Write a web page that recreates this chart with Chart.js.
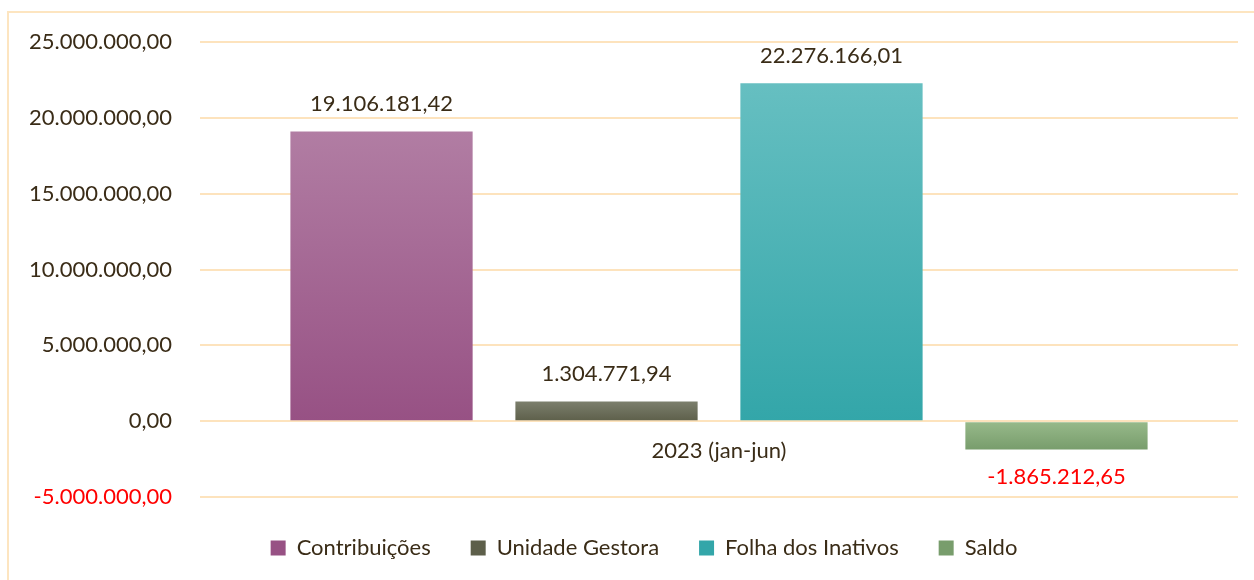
<!DOCTYPE html>
<html>
<head>
<meta charset="utf-8">
<script src="https://cdn.jsdelivr.net/npm/chart.js@4.4.1/dist/chart.umd.min.js"></script>
<style>
  html, body { margin: 0; padding: 0; background: #fff; overflow: hidden; }
  #wrap { position: relative; width: 1254px; height: 580px; overflow: hidden; }
  #frame {
    position: absolute; left: 7px; top: 11px; width: 1300px; height: 700px;
    border: 2px solid #fde5c0; pointer-events: none;
  }
  canvas { position: absolute; left: 0; top: 0; }
</style>
</head>
<body>
<div id="wrap">
  <canvas id="chart" width="1254" height="600"></canvas>
  <div id="frame"></div>
</div>
<script>
'use strict';

// ── Data ──
const periodLabels = ['2023 (jan-jun)'];
const seriesNames  = ['Contribuições', 'Unidade Gestora', 'Folha dos Inativos', 'Saldo'];
const contribuicoes  = [19106181.42];
const unidadeGestora = [1304771.94];
const folhaInativos  = [22276166.01];
const saldo          = [-1865212.65];
const yTicks = [-5000000, 0, 5000000, 10000000, 15000000, 20000000, 25000000];

const TEXT_COLOR = '#3a2c17';
const GRID_COLOR = '#fde3bd';
const FONT = 'Lato, "Open Sans", sans-serif';
const FONT_SIZE = 22;

// gradient pairs (top, bottom) per series
const FILLS = [
  ['#b17da3', '#975184'],
  ['#7c7f6d', '#5d5f4a'],
  ['#66bfc1', '#33a6a9'],
  ['#98ba8b', '#789d6c'],
];

function fmtBR(v) {
  const neg = v < 0;
  const [int, dec] = Math.abs(v).toFixed(2).split('.');
  const withDots = int.replace(/\B(?=(\d{3})+(?!\d))/g, '.');
  return (neg ? '-' : '') + withDots + ',' + dec;
}

function barGradient(top, bottom) {
  return ctx => {
    const chart = ctx.chart;
    const ys = chart.scales && chart.scales.y;
    const v = ctx.dataset.data[ctx.dataIndex || 0];
    if (!ys || !chart.chartArea) return bottom;
    const y1 = ys.getPixelForValue(Math.max(v, 0));
    const y2 = ys.getPixelForValue(Math.min(v, 0));
    if (!isFinite(y1) || !isFinite(y2) || y1 === y2) return bottom;
    const g = chart.ctx.createLinearGradient(0, y1, 0, y2);
    g.addColorStop(0, top);
    g.addColorStop(1, bottom);
    return g;
  };
}

// value labels above / below bars
const valueLabels = {
  id: 'valueLabels',
  afterDatasetsDraw(chart) {
    const c = chart.ctx;
    c.save();
    c.font = FONT_SIZE + 'px ' + FONT;
    c.textAlign = 'center';
    c.textBaseline = 'middle';
    chart.data.datasets.forEach((ds, i) => {
      const meta = chart.getDatasetMeta(i);
      meta.data.forEach((bar, j) => {
        const v = ds.data[j];
        c.fillStyle = v < 0 ? '#ff0000' : TEXT_COLOR;
        const y = v < 0 ? bar.y + 27 : bar.y - 27;
        c.fillText(fmtBR(v), bar.x, y);
      });
    });
    c.restore();
  },
};

// nudge the legend to the right, as in the original
const legendShift = {
  id: 'legendShift',
  afterLayout(chart) {
    if (chart.legend) chart.legend.left += 50;
  },
};

const seriesData = [contribuicoes, unidadeGestora, folhaInativos, saldo];

new Chart(document.getElementById('chart'), {
  type: 'bar',
  data: {
    labels: periodLabels,
    datasets: seriesNames.map((name, i) => ({
      label: name,
      data: seriesData[i],
      backgroundColor: barGradient(FILLS[i][0], FILLS[i][1]),
      borderWidth: 0,
      barPercentage: 0.81,
      categoryPercentage: 0.867,
    })),
  },
  options: {
    responsive: false,
    animation: false,
    devicePixelRatio: 1,
    layout: { padding: { left: 0, right: 16, top: 42, bottom: 31 } },
    plugins: {
      legend: {
        position: 'bottom',
        labels: {
          color: TEXT_COLOR,
          font: { family: FONT, size: FONT_SIZE },
          boxWidth: 15,
          boxHeight: 15,
          padding: 40,
        },
      },
      tooltip: { enabled: false },
    },
    scales: {
      x: {
        type: 'category',
        position: { y: 0 },
        grid: { display: false, drawTicks: false },
        border: { display: false },
        ticks: { color: TEXT_COLOR, font: { family: FONT, size: FONT_SIZE }, padding: 17 },
      },
      y: {
        min: -5000000,
        max: 25000000,
        afterBuildTicks: scale => { scale.ticks = yTicks.map(v => ({ value: v })); },
        afterFit: scale => { scale.width = 200; },
        grid: { color: GRID_COLOR, lineWidth: 2, drawTicks: false },
        border: { display: false },
        ticks: {
          padding: 28,
          font: { family: FONT, size: FONT_SIZE },
          color: ctx => (ctx.tick && ctx.tick.value < 0 ? '#ff0000' : TEXT_COLOR),
          callback: v => fmtBR(v),
        },
      },
    },
  },
  plugins: [valueLabels, legendShift],
});
</script>
</body>
</html>
